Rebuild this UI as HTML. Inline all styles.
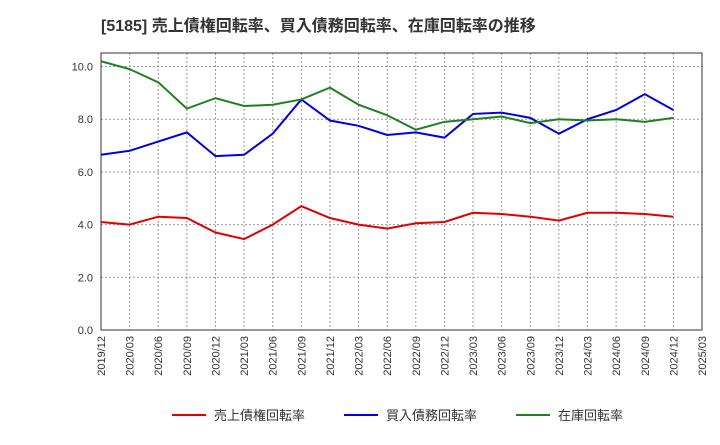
<!DOCTYPE html>
<html><head><meta charset="utf-8"><style>
body{margin:0;background:#fff;font-family:"Liberation Sans","Noto Sans CJK JP",sans-serif;}
</style></head><body>
<svg id="chart" width="720" height="440" xmlns="http://www.w3.org/2000/svg" font-family="Liberation Sans, Noto Sans CJK JP, sans-serif">
<text x="101" y="31" font-size="16" font-weight="bold" fill="#333">[5185]  売上債権回転率、買入債務回転率、在庫回転率の推移</text>
<g id="grid"></g><g id="axes"></g><g id="series"></g>
<g font-size="13" fill="#333">
<line x1="172" y1="415" x2="206" y2="415" stroke="#e00000" stroke-width="2"/><text x="214" y="420">売上債権回転率</text>
<line x1="344" y1="415" x2="378" y2="415" stroke="#0000e0" stroke-width="2"/><text x="386" y="420">買入債務回転率</text>
<line x1="516" y1="415" x2="550" y2="415" stroke="#208020" stroke-width="2"/><text x="558" y="420">在庫回転率</text>
</g>
</svg>
<script>
const xLabels=["2019/12","2020/03","2020/06","2020/09","2020/12","2021/03","2021/06","2021/09","2021/12","2022/03","2022/06","2022/09","2022/12","2023/03","2023/06","2023/09","2023/12","2024/03","2024/06","2024/09","2024/12","2025/03"];
const yTicks=[0,2,4,6,8,10];
const receivables=[4.1,4.0,4.3,4.25,3.7,3.45,4.0,4.7,4.25,4.0,3.85,4.05,4.1,4.45,4.4,4.3,4.15,4.45,4.45,4.4,4.3];
const payables=[6.65,6.8,7.15,7.5,6.6,6.65,7.45,8.75,7.95,7.75,7.4,7.5,7.3,8.2,8.25,8.05,7.45,8.0,8.35,8.95,8.35];
const inventory=[10.2,9.9,9.4,8.4,8.8,8.5,8.55,8.75,9.2,8.55,8.15,7.6,7.9,8.0,8.1,7.85,8.0,7.95,8.0,7.9,8.05];
const L=101,R=702,T=53,B=330;
const x=i=>L+(R-L)*i/(xLabels.length-1);
const y=v=>B-v*26.35;
const NS="http://www.w3.org/2000/svg";
function mk(tag,attrs,parent){const e=document.createElementNS(NS,tag);for(const k in attrs)e.setAttribute(k,attrs[k]);parent.appendChild(e);return e;}
const grid=document.getElementById('grid'),axes=document.getElementById('axes'),ser=document.getElementById('series');
mk('rect',{x:L,y:T,width:R-L,height:B-T,fill:'none',stroke:'#333'},axes);
yTicks.forEach(v=>{
 if(v>0){const g=mk('line',{x1:L,x2:R,y1:y(v),y2:y(v),stroke:'#999','stroke-dasharray':'2,2'},grid);
 
 }
 const t=mk('text',{x:L-8,y:y(v)+4,'text-anchor':'end','font-size':11,fill:'#333'},axes);t.textContent=v.toFixed(1);
 
 
});
xLabels.forEach((s,i)=>{
 if(i>0&&i<xLabels.length-1){const g=mk('line',{x1:x(i),x2:x(i),y1:T,y2:B,stroke:'#999','stroke-dasharray':'2,2'},grid);
 
 }
 const t=mk('text',{transform:`translate(${x(i)+4},${B+6}) rotate(-90)`,'text-anchor':'end','font-size':11,fill:'#333'},axes);t.textContent=s;
 
 
});
[[receivables,'#e00000','receivables-line'],[payables,'#0000e0','payables-line'],[inventory,'#208020','inventory-line']].forEach(([d,c,n])=>{
 const p=mk('polyline',{points:d.map((v,i)=>x(i)+','+y(v)).join(' '),fill:'none',stroke:c,'stroke-width':2},ser);
 
 
});
</script>
</body></html>
